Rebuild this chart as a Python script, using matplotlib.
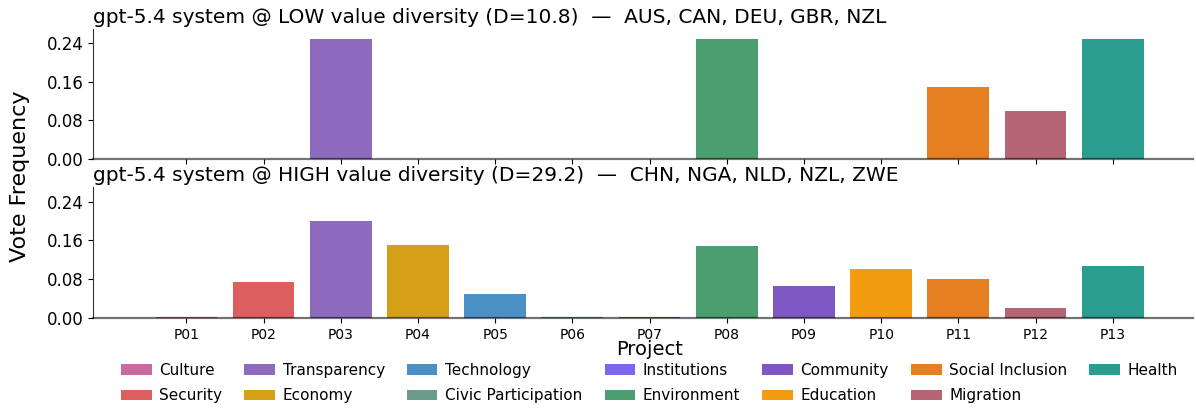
import matplotlib
matplotlib.use("Agg")
import matplotlib.pyplot as plt
from matplotlib.patches import Patch

projects = ["P01", "P02", "P03", "P04", "P05", "P06", "P07", "P08", "P09", "P10", "P11", "P12", "P13"]
themes = ["Culture", "Security", "Transparency", "Economy", "Technology", "Civic Participation",
          "Institutions", "Environment", "Community", "Education", "Social Inclusion", "Migration", "Health"]
theme_colors = ["#c86b9e", "#dc5f5f", "#8e6bbf", "#d4a017", "#4a90c4", "#6a9c89",
                "#7b68ee", "#4a9e6f", "#7e57c2", "#f39c12", "#e67e22", "#b56576", "#2a9d8f"]

low_values = [0.0, 0.0, 0.25, 0.0, 0.0, 0.0, 0.0, 0.25, 0.0, 0.0, 0.15, 0.10, 0.25]
high_values = [0.002, 0.075, 0.20, 0.15, 0.05, 0.002, 0.002, 0.148, 0.065, 0.102, 0.080, 0.020, 0.108]

low_title = "gpt-5.4 system @ LOW value diversity (D=10.8)  \u2014  AUS, CAN, DEU, GBR, NZL"
high_title = "gpt-5.4 system @ HIGH value diversity (D=29.2)  \u2014  CHN, NGA, NLD, NZL, ZWE"
yticks = [0.00, 0.08, 0.16, 0.24]

W, H = 1196, 409
fig = plt.figure(figsize=(W / 100, H / 100), dpi=100)

def box(l, t, r, b):
    return [l / W, 1 - b / H, (r - l) / W, (b - t) / H]

ax1 = fig.add_axes(box(93, 29, 1193, 159))
ax2 = fig.add_axes(box(93, 187, 1193, 318), sharex=ax1)

x = list(range(len(projects)))
for ax, vals, title in [(ax1, low_values, low_title), (ax2, high_values, high_title)]:
    ax.bar(x, vals, width=0.8, color=theme_colors, linewidth=0)
    ax.set_ylim(0, 0.27)
    ax.set_yticks(yticks)
    ax.set_yticklabels([f"{v:.2f}" for v in yticks], fontsize=12)
    ax.set_title(title, loc="left", fontsize=14.5, pad=4)
    ax.spines["top"].set_visible(False)
    ax.spines["right"].set_visible(False)
    ax.spines["bottom"].set_color((0, 0, 0, 0.55))
    ax.spines["bottom"].set_linewidth(1.6)
    ax.spines["left"].set_color("#333333")

ax1.set_xlim(-1.21, 13.04)
ax2.set_xticks(x)
ax2.set_xticklabels(projects, fontsize=10)
plt.setp(ax1.get_xticklabels(), visible=False)
ax2.set_xlabel("Project", fontsize=14, labelpad=0)
ax2.xaxis.set_label_coords(0.506, -0.165)
fig.text(20 / W, 1 - 176 / H, "Vote Frequency", rotation=90, fontsize=16, ha="center", va="center")

handles = [Patch(facecolor=c, edgecolor="none", label=t) for t, c in zip(themes, theme_colors)]
fig.legend(handles=handles, loc="upper center", bbox_to_anchor=(0.543, 1 - 349 / H), ncol=7,
           frameon=False, fontsize=11, handlelength=2.0, columnspacing=1.45, handletextpad=0.5,
           labelspacing=0.7)

fig.savefig("out.png", dpi=100)
